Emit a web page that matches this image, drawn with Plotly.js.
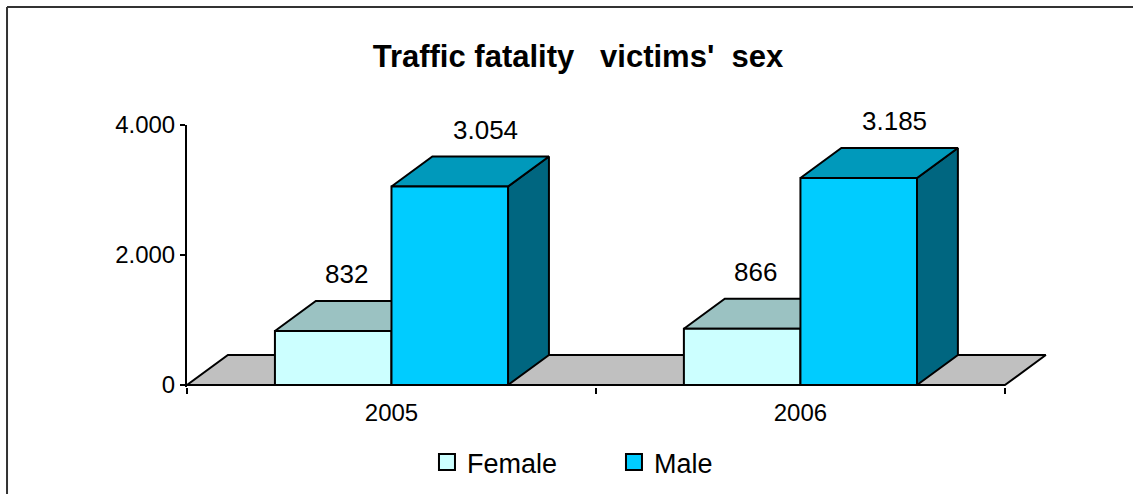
<!DOCTYPE html>
<html>
<head>
<meta charset="utf-8">
<script src="https://cdn.plot.ly/plotly-3.0.1.min.js"></script>
<style>
  html, body { margin: 0; padding: 0; background: #fff; }
  #chart { width: 1133px; height: 494px; }
</style>
</head>
<body>
<div id="chart"></div>
<script>
// ---- data ----
const categories = ['2005', '2006'];
const femaleValues = [832, 866];
const maleValues = [3054, 3185];
const seriesNames = ['Female', 'Male'];
const yTickVals = [0, 2000, 4000];
const yTickLabels = ['0', '2.000', '4.000'];
const titleText = "Traffic fatality\u00a0\u00a0\u00a0victims'\u00a0\u00a0sex";

// ---- style / geometry ----
const W = 0.285;          // bar width (category units)
const DX = 0.1;           // depth offset in x (category units)
const DY = 461.5;         // depth offset in y (value units)
const FONT = 'Arial, "Liberation Sans", sans-serif';
const styles = [
  { front: '#CCFFFF', top: '#9BC2C2', side: '#668080', offset: -W, xshift: 13 },
  { front: '#00CCFF', top: '#0099BB', side: '#006680', offset: 0, xshift: 36 }
];
const seriesValues = [femaleValues, maleValues];

function fmt(v) {
  return String(Math.round(v)).replace(/\B(?=(\d{3})+(?!\d))/g, '.');
}

function face(xs, ys, color) {
  return {
    type: 'scatter', x: xs, y: ys, mode: 'lines', fill: 'toself',
    fillcolor: color, line: { color: '#000', width: 2 },
    hoverinfo: 'skip', showlegend: false
  };
}

const traces = [];
// floor
traces.push(face([-0.5, 1.5, 1.5 + DX, -0.5 + DX, -0.5], [0, 0, DY, DY, 0], '#C0C0C0'));

const annotations = [];
categories.forEach((cat, i) => {
  seriesValues.forEach((vals, s) => {
    const st = styles[s];
    const x0 = i + st.offset, x1 = x0 + W, h = vals[i];
    traces.push(face([x1, x1 + DX, x1 + DX, x1, x1], [0, DY, h + DY, h, 0], st.side));
    traces.push(face([x0, x1, x1 + DX, x0 + DX, x0], [h, h, h + DY, h + DY, h], st.top));
    traces.push(face([x0, x1, x1, x0, x0], [0, 0, h, h, 0], st.front));
    annotations.push({
      x: (x0 + x1) / 2, y: h, xref: 'x', yref: 'y', text: fmt(h),
      showarrow: false, xshift: st.xshift, yshift: 57, yanchor: 'middle',
      font: { family: FONT, size: 26, color: '#000' }
    });
  });
});

// x axis line
traces.push({
  type: 'scatter', x: [-0.5, 1.5], y: [0, 0], mode: 'lines',
  line: { color: '#000', width: 2 }, hoverinfo: 'skip', showlegend: false
});

// legend entries
seriesNames.forEach((name, s) => {
  traces.push({
    type: 'scatter', x: [null], y: [null], mode: 'markers', name: name,
    marker: { symbol: 'square', size: 16, color: styles[s].front, line: { color: '#000', width: 2 } },
    showlegend: true
  });
});

// layout geometry
const ML = 187, MT = 125;
const xRange = [-0.5, 1.62];
const yRange = [-30, 4000];
const PW = (xRange[1] - xRange[0]) * 409;
const PH = (yRange[1] - yRange[0]) * 0.065;
const MR = 1133 - ML - PW;
const MB = 494 - MT - PH;
const px2paperX = p => (p - ML) / PW;
const py2paperY = p => (MT + PH - p) / PH;

const shapes = [
  { type: 'line', xref: 'paper', yref: 'paper', x0: px2paperX(7), x1: px2paperX(1140), y0: py2paperY(7), y1: py2paperY(7), line: { color: '#333', width: 2 } },
  { type: 'line', xref: 'paper', yref: 'paper', x0: px2paperX(7), x1: px2paperX(7), y0: py2paperY(7), y1: py2paperY(500), line: { color: '#333', width: 2 } }
];

const layout = {
  width: 1133, height: 494,
  margin: { l: ML, r: MR, t: MT, b: MB, pad: 0, autoexpand: false },
  paper_bgcolor: '#fff', plot_bgcolor: 'rgba(0,0,0,0)',
  title: {
    text: titleText, xref: 'paper', x: px2paperX(578), xanchor: 'center',
    yref: 'container', y: 1 - 56 / 494, yanchor: 'middle',
    font: { family: FONT, size: 31, weight: 'bold', color: '#000' }
  },
  xaxis: {
    type: 'linear', range: xRange, fixedrange: true,
    tickmode: 'array', tickvals: [0, 1], ticktext: categories,
    ticks: '', showline: false, zeroline: false, showgrid: false,
    ticklabelstandoff: 9,
    tickfont: { family: FONT, size: 24, color: '#000' },
    minor: { tickmode: 'array', tickvals: [-0.5, 0.5, 1.5], ticks: 'outside', ticklen: 6, tickwidth: 2, tickcolor: '#000', showgrid: false }
  },
  yaxis: {
    range: yRange, fixedrange: true,
    tickmode: 'array', tickvals: yTickVals, ticktext: yTickLabels,
    ticks: 'outside', ticklen: 5, tickwidth: 2, tickcolor: '#000',
    showline: true, linewidth: 2, linecolor: '#000',
    showgrid: false, zeroline: false,
    tickfont: { family: FONT, size: 24, color: '#000' }
  },
  showlegend: true,
  legend: {
    orientation: 'h', x: px2paperX(427), xanchor: 'left',
    y: py2paperY(438), yanchor: 'top', entrywidth: 142,
    font: { family: FONT, size: 27, color: '#000' }, bgcolor: 'rgba(0,0,0,0)'
  },
  annotations: annotations,
  shapes: shapes
};

Plotly.newPlot('chart', traces, layout, { staticPlot: true, displayModeBar: false });
</script>
</body>
</html>
